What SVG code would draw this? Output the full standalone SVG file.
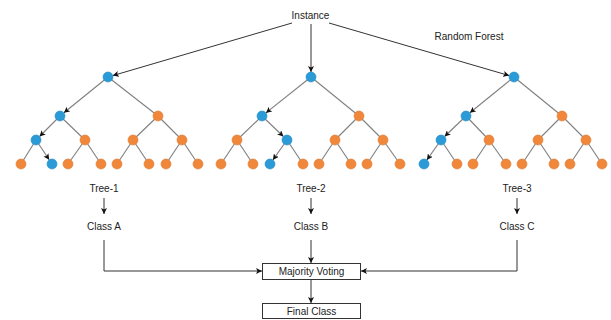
<svg xmlns="http://www.w3.org/2000/svg" width="611" height="320" viewBox="0 0 611 320">
  <defs>
    <marker id="arrow" viewBox="0 0 10 10" refX="10" refY="5" markerWidth="6" markerHeight="6" markerUnits="userSpaceOnUse" orient="auto">
      <path d="M0,0 L10,5 L0,10 L2.5,5 Z" fill="#111"/>
    </marker>
    <style>
      text { font-family: "Liberation Sans", Arial, sans-serif; font-size: 10px; fill: #222; text-anchor: middle; }
      .edge { stroke: #7f7f7f; stroke-width: 1.1; fill: none; }
      .flow { stroke: #333; stroke-width: 1; fill: none; }
      .arr { marker-end: url(#arrow); }
      .blue { fill: #2b9bd8; stroke: #2389c2; stroke-width: 0.6; }
      .orange { fill: #f0873a; stroke: #de7a32; stroke-width: 0.6; }
      .box { fill: #fff; stroke: #333; stroke-width: 1; }
    </style>
  </defs>
  <rect width="611" height="320" fill="#fff"/>

  <!-- labels -->
  <g id="instance"><text x="310.5" y="19">Instance</text></g>
  <g id="forest-label"><text x="469" y="39.5">Random Forest</text></g>

  <g id="connectors">
    <!-- instance to tree roots -->
    <line class="flow arr" x1="292" y1="23" x2="112.8" y2="75.6"/>
    <line class="flow arr" x1="311" y1="24" x2="311" y2="72"/>
    <line class="flow arr" x1="329" y1="23" x2="509.2" y2="75.6"/>

    <!-- tree 1 edges -->
    <line class="edge arr" x1="108" y1="77" x2="63.9" y2="112.8"/>
    <line class="edge" x1="108" y1="77" x2="158" y2="116"/>
    <line class="edge arr" x1="60" y1="116" x2="39.5" y2="136.5"/>
    <line class="edge" x1="60" y1="116" x2="85" y2="140"/>
    <line class="edge" x1="158" y1="116" x2="133" y2="140"/>
    <line class="edge" x1="158" y1="116" x2="182" y2="140"/>
    <line class="edge" x1="36" y1="140" x2="21" y2="164"/>
    <line class="edge arr" x1="36" y1="140" x2="49.2" y2="159.8"/>
    <line class="edge" x1="85" y1="140" x2="68" y2="164"/>
    <line class="edge" x1="85" y1="140" x2="101" y2="164"/>
    <line class="edge" x1="133" y1="140" x2="117" y2="164"/>
    <line class="edge" x1="133" y1="140" x2="149" y2="164"/>
    <line class="edge" x1="182" y1="140" x2="166" y2="164"/>
    <line class="edge" x1="182" y1="140" x2="198" y2="164"/>

    <!-- tree 2 edges -->
    <line class="edge arr" x1="311" y1="77" x2="265.9" y2="112.9"/>
    <line class="edge" x1="311" y1="77" x2="359" y2="116"/>
    <line class="edge" x1="262" y1="116" x2="237" y2="140"/>
    <line class="edge arr" x1="262" y1="116" x2="283.4" y2="136.5"/>
    <line class="edge" x1="359" y1="116" x2="335" y2="140"/>
    <line class="edge" x1="359" y1="116" x2="383" y2="140"/>
    <line class="edge" x1="237" y1="140" x2="221" y2="164"/>
    <line class="edge" x1="237" y1="140" x2="253" y2="164"/>
    <line class="edge arr" x1="287" y1="140" x2="272.9" y2="159.9"/>
    <line class="edge" x1="287" y1="140" x2="303" y2="164"/>
    <line class="edge" x1="335" y1="140" x2="319" y2="164"/>
    <line class="edge" x1="335" y1="140" x2="351" y2="164"/>
    <line class="edge" x1="383" y1="140" x2="367" y2="164"/>
    <line class="edge" x1="383" y1="140" x2="400" y2="164"/>

    <!-- tree 3 edges -->
    <line class="edge arr" x1="514" y1="77" x2="469.9" y2="112.8"/>
    <line class="edge" x1="514" y1="77" x2="562" y2="116"/>
    <line class="edge arr" x1="466" y1="116" x2="444.6" y2="136.5"/>
    <line class="edge" x1="466" y1="116" x2="489" y2="140"/>
    <line class="edge" x1="562" y1="116" x2="538" y2="140"/>
    <line class="edge" x1="562" y1="116" x2="586" y2="140"/>
    <line class="edge arr" x1="441" y1="140" x2="426.9" y2="159.9"/>
    <line class="edge" x1="441" y1="140" x2="457" y2="164"/>
    <line class="edge" x1="489" y1="140" x2="473" y2="164"/>
    <line class="edge" x1="489" y1="140" x2="506" y2="164"/>
    <line class="edge" x1="538" y1="140" x2="522" y2="164"/>
    <line class="edge" x1="538" y1="140" x2="554" y2="164"/>
    <line class="edge" x1="586" y1="140" x2="570" y2="164"/>
    <line class="edge" x1="586" y1="140" x2="602" y2="164"/>

    <!-- tree outputs -->
    <line class="flow arr" x1="104" y1="198" x2="104" y2="214"/>
    <line class="flow arr" x1="311" y1="198" x2="311" y2="214"/>
    <line class="flow arr" x1="517" y1="198" x2="517" y2="214"/>

    <!-- votes -->
    <polyline class="flow arr" points="104,240 104,271 262,271"/>
    <line class="flow arr" x1="311" y1="240" x2="311" y2="263"/>
    <polyline class="flow arr" points="517,240 517,271 361,271"/>
    <line class="flow arr" x1="311" y1="279" x2="311" y2="303"/>
  </g>

  <!-- tree 1 nodes -->
  <g id="tree-1">
    <circle class="blue" cx="108" cy="77" r="5"/>
    <circle class="blue" cx="60" cy="116" r="5"/>
    <circle class="orange" cx="158" cy="116" r="5"/>
    <circle class="blue" cx="36" cy="140" r="5"/>
    <circle class="orange" cx="85" cy="140" r="5"/>
    <circle class="orange" cx="133" cy="140" r="5"/>
    <circle class="orange" cx="182" cy="140" r="5"/>
    <circle class="orange" cx="21" cy="164" r="5"/>
    <circle class="blue" cx="52" cy="164" r="5"/>
    <circle class="orange" cx="68" cy="164" r="5"/>
    <circle class="orange" cx="101" cy="164" r="5"/>
    <circle class="orange" cx="117" cy="164" r="5"/>
    <circle class="orange" cx="149" cy="164" r="5"/>
    <circle class="orange" cx="166" cy="164" r="5"/>
    <circle class="orange" cx="198" cy="164" r="5"/>
  </g>

  <!-- tree 2 nodes -->
  <g id="tree-2">
    <circle class="blue" cx="311" cy="77" r="5"/>
    <circle class="blue" cx="262" cy="116" r="5"/>
    <circle class="orange" cx="359" cy="116" r="5"/>
    <circle class="orange" cx="237" cy="140" r="5"/>
    <circle class="blue" cx="287" cy="140" r="5"/>
    <circle class="orange" cx="335" cy="140" r="5"/>
    <circle class="orange" cx="383" cy="140" r="5"/>
    <circle class="orange" cx="221" cy="164" r="5"/>
    <circle class="orange" cx="253" cy="164" r="5"/>
    <circle class="blue" cx="270" cy="164" r="5"/>
    <circle class="orange" cx="303" cy="164" r="5"/>
    <circle class="orange" cx="319" cy="164" r="5"/>
    <circle class="orange" cx="351" cy="164" r="5"/>
    <circle class="orange" cx="367" cy="164" r="5"/>
    <circle class="orange" cx="400" cy="164" r="5"/>
  </g>

  <!-- tree 3 nodes -->
  <g id="tree-3">
    <circle class="blue" cx="514" cy="77" r="5"/>
    <circle class="blue" cx="466" cy="116" r="5"/>
    <circle class="orange" cx="562" cy="116" r="5"/>
    <circle class="blue" cx="441" cy="140" r="5"/>
    <circle class="orange" cx="489" cy="140" r="5"/>
    <circle class="orange" cx="538" cy="140" r="5"/>
    <circle class="orange" cx="586" cy="140" r="5"/>
    <circle class="blue" cx="424" cy="164" r="5"/>
    <circle class="orange" cx="457" cy="164" r="5"/>
    <circle class="orange" cx="473" cy="164" r="5"/>
    <circle class="orange" cx="506" cy="164" r="5"/>
    <circle class="orange" cx="522" cy="164" r="5"/>
    <circle class="orange" cx="554" cy="164" r="5"/>
    <circle class="orange" cx="570" cy="164" r="5"/>
    <circle class="orange" cx="602" cy="164" r="5"/>
  </g>

  <!-- tree names and predicted classes -->
  <g id="tree-1-label"><text x="104" y="192">Tree-1</text></g>
  <g id="tree-2-label"><text x="311" y="192">Tree-2</text></g>
  <g id="tree-3-label"><text x="517" y="192">Tree-3</text></g>
  <g id="class-a"><text x="104" y="230">Class A</text></g>
  <g id="class-b"><text x="311" y="230">Class B</text></g>
  <g id="class-c"><text x="517" y="230">Class C</text></g>

  <g id="majority-voting">
    <rect class="box" x="262.5" y="263.5" width="98" height="16"/>
    <text x="311.5" y="275">Majority Voting</text>
  </g>
  <g id="final-class">
    <rect class="box" x="262.5" y="303.5" width="98" height="15"/>
    <text x="311.5" y="315">Final Class</text>
  </g>
</svg>
